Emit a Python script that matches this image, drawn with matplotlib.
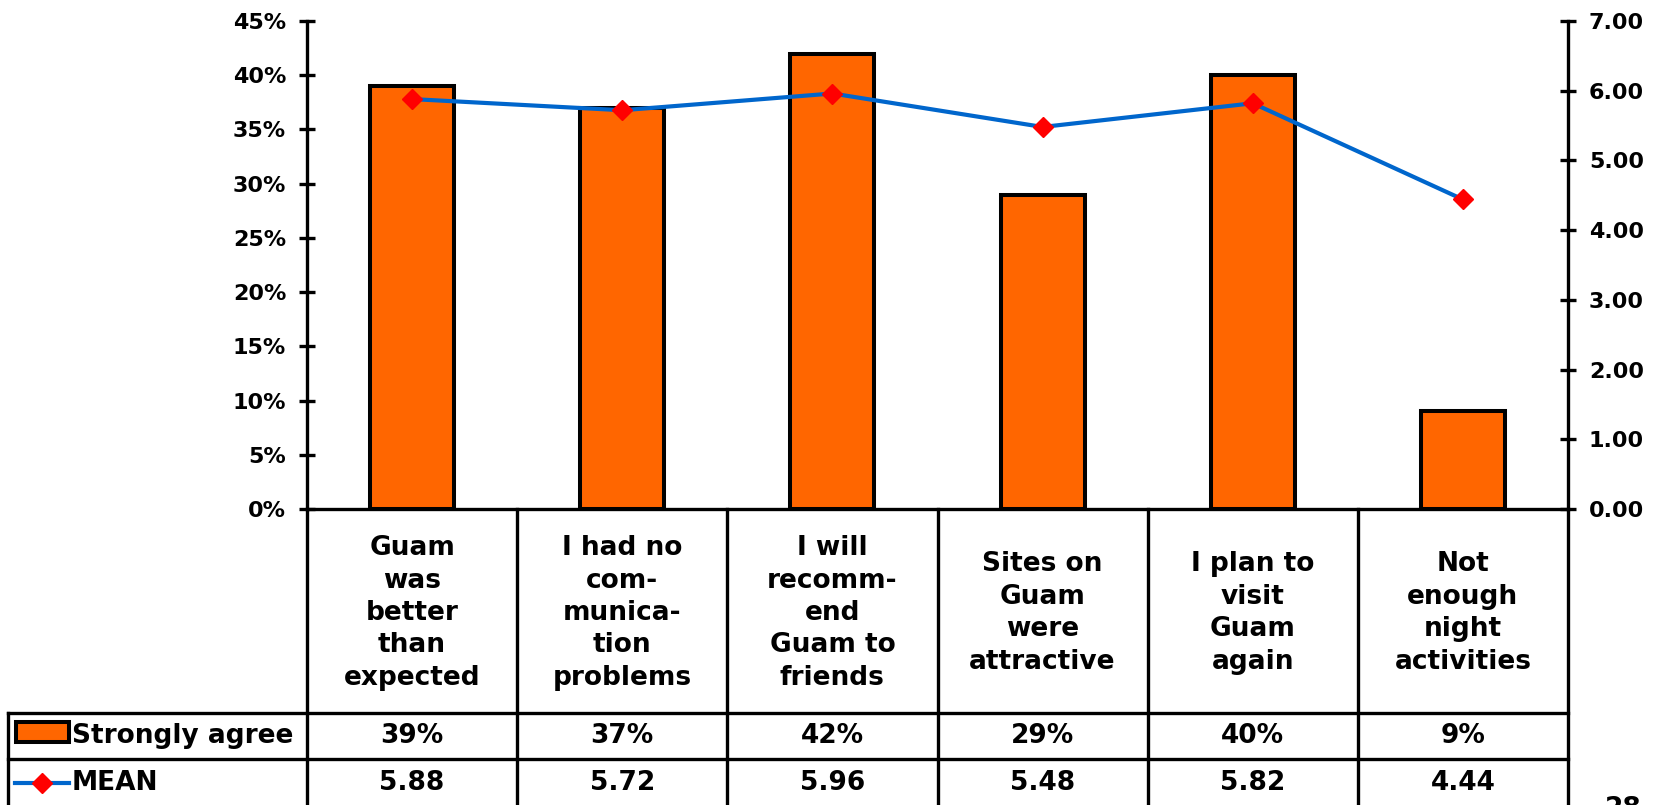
import numpy as np
import matplotlib
matplotlib.use("Agg")
import matplotlib.pyplot as plt
from matplotlib.lines import Line2D
from matplotlib.patches import Rectangle
from matplotlib.ticker import FuncFormatter

plt.rcParams['font.family'] = ['DejaVu Sans']
plt.rcParams['font.weight'] = 'bold'

# Data
categories = [
    "Guam\nwas\nbetter\nthan\nexpected",
    "I had no\ncom-\nmunica-\ntion\nproblems",
    "I will\nrecomm-\nend\nGuam to\nfriends",
    "Sites on\nGuam\nwere\nattractive",
    "I plan to\nvisit\nGuam\nagain",
    "Not\nenough\nnight\nactivities",
]
strongly_agree = [39, 37, 42, 29, 40, 9]
mean_scores = [5.88, 5.72, 5.96, 5.48, 5.82, 4.44]
series_names = ["Strongly agree", "MEAN"]

W, H = 1655, 805
BAR_COLOR = "#FF6600"
LINE_COLOR = "#0066CC"
LW = 2.4
FS = 19

fig = plt.figure(figsize=(W / 100, H / 100), dpi=100)

# pixel layout
ax_l, ax_r, ax_top, ax_bot = 307, 1568, 21, 509
row1, row2 = 713, 759
tbl_left = 8


def fx(px):
    return px / W


def fy(py):
    return 1 - py / H


ax = fig.add_axes([fx(ax_l), fy(ax_bot), fx(ax_r) - fx(ax_l), fy(ax_top) - fy(ax_bot)])
x = np.arange(len(categories))
ax.bar(x, strongly_agree, width=0.4, color=BAR_COLOR, edgecolor="black", linewidth=2.9, zorder=2)
ax.set_xlim(-0.5, len(categories) - 0.5)
ax.set_ylim(0, 45)
ax.set_yticks(np.arange(0, 46, 5))
ax.yaxis.set_major_formatter(FuncFormatter(lambda v, p: f"{v:.0f}%"))
ax.set_xticks([])
for s in ["top", "right"]:
    ax.spines[s].set_visible(False)
ax.spines["left"].set_linewidth(LW)
ax.spines["bottom"].set_linewidth(LW)
ax.tick_params(axis="y", direction="inout", length=12, width=LW, labelsize=16, pad=9)
for t in ax.get_yticklabels():
    t.set_fontweight("bold")

ax2 = ax.twinx()
ax2.plot(x, mean_scores, color=LINE_COLOR, linewidth=3, marker="D", markersize=10,
         markerfacecolor="red", markeredgecolor="red", zorder=3)
ax2.set_ylim(0, 7)
ax2.set_yticks(np.arange(0, 8, 1))
ax2.yaxis.set_major_formatter(FuncFormatter(lambda v, p: f"{v:.2f}"))
for s in ["top", "left", "bottom"]:
    ax2.spines[s].set_visible(False)
ax2.spines["right"].set_linewidth(LW)
ax2.tick_params(axis="y", direction="inout", length=12, width=LW, labelsize=16, pad=9)
for t in ax2.get_yticklabels():
    t.set_fontweight("bold")

# Data table below the chart
col_w = (ax_r - ax_l) / len(categories)
edges = [ax_l + i * col_w for i in range(len(categories) + 1)]


def hline(y, x0, x1):
    fig.add_artist(Line2D([fx(x0), fx(x1)], [fy(y), fy(y)], color="black", linewidth=LW))


def vline(xp, y0, y1):
    fig.add_artist(Line2D([fx(xp), fx(xp)], [fy(y0), fy(y1)], color="black", linewidth=LW))


for e in edges:
    vline(e, ax_bot, H + 5)
vline(tbl_left, row1, H + 5)
hline(row1, tbl_left, ax_r)
hline(row2, tbl_left, ax_r)

for i, cat in enumerate(categories):
    cx = (edges[i] + edges[i + 1]) / 2
    fig.text(fx(cx), fy((ax_bot + row1) / 2 + 2), cat, ha="center", va="center",
             fontsize=FS, fontweight="bold", linespacing=1.32)
    fig.text(fx(cx), fy((row1 + row2) / 2), f"{strongly_agree[i]}%", ha="center", va="center",
             fontsize=FS, fontweight="bold")
    fig.text(fx(cx), fy(783), f"{mean_scores[i]:.2f}", ha="center", va="center",
             fontsize=FS, fontweight="bold")

# legend keys inside the table
fig.add_artist(Rectangle((fx(16), fy(742)), fx(69) - fx(16), fy(722) - fy(742),
                         facecolor=BAR_COLOR, edgecolor="black", linewidth=2.9))
fig.text(fx(72), fy(736), series_names[0], ha="left", va="center", fontsize=FS, fontweight="bold")
fig.add_artist(Line2D([fx(15), fx(69)], [fy(783), fy(783)], color=LINE_COLOR, linewidth=3))
fig.add_artist(Line2D([fx(42)], [fy(783)], marker="D", markersize=10, color="red"))
fig.text(fx(72), fy(783), series_names[1], ha="left", va="center", fontsize=FS, fontweight="bold")

# page number (cut off at the bottom)
fig.text(fx(1605), fy(796), "28", ha="left", va="top", fontsize=FS, fontweight="bold")

fig.savefig("out.png", dpi=100)
